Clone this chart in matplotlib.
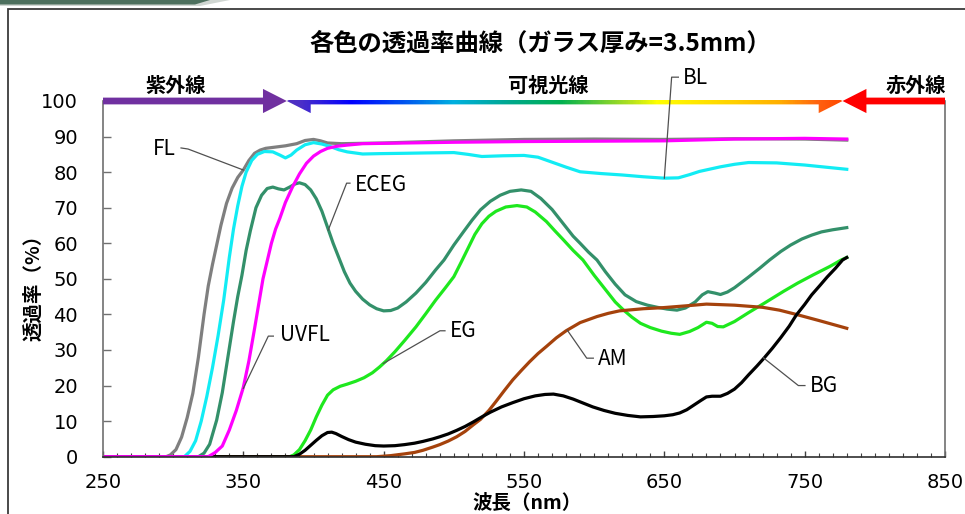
import numpy as np
import matplotlib
matplotlib.use('Agg')
import matplotlib.pyplot as plt
from matplotlib.patches import Polygon, Rectangle
from matplotlib.colors import LinearSegmentedColormap

plt.rcParams['font.family'] = ['Noto Sans CJK JP', 'DejaVu Sans']

# 透過率データ (波長 nm, 透過率 %)
fl_wl = [250, 295, 298, 302, 306, 310, 314, 318, 322, 325, 328, 331, 334, 338, 342, 346, 350, 354, 358, 362,
         366, 372, 380, 388, 394, 400, 405, 410, 420, 450, 500, 550, 600, 650, 700, 750, 780]
fl_t = [0, 0, 0.5, 2, 5.5, 11, 17.8, 28, 40, 48, 54, 59.5, 65, 71.2, 75.5, 78.5, 80.6, 83.3, 85.3, 86.2,
        86.7, 87, 87.4, 88, 88.9, 89.2, 88.8, 88.2, 88, 88.2, 88.8, 89.2, 89.3, 89.2, 89.4, 89.3, 89]

bl_wl = [250, 308, 312, 316, 320, 324, 328, 332, 336, 340, 343, 346, 349, 352, 356, 360, 365, 371, 376, 380,
         384, 388, 394, 400, 406, 412, 418, 424, 435, 447, 465, 480, 500, 510, 520, 535, 550, 560, 570, 580,
         590, 605, 620, 635, 650, 660, 668, 675, 690, 700, 710, 730, 750, 765, 780]
bl_t = [0, 0, 1.5, 4.5, 10, 17, 25, 34, 44, 56, 64, 70.5, 76, 80, 83.3, 85, 85.8, 85.7, 84.8, 84,
        84.8, 86.2, 87.7, 88.3, 87.9, 87.2, 86.3, 85.7, 85.1, 85.2, 85.3, 85.4, 85.5, 85, 84.4, 84.6, 84.7, 84.2, 82.8, 81.4,
        80.1, 79.6, 79.2, 78.7, 78.3, 78.4, 79.3, 80.2, 81.5, 82.2, 82.7, 82.6, 82, 81.4, 80.8]

eceg_wl = [250, 318, 322, 326, 331, 335, 339, 343, 346, 349, 352, 355, 359, 363, 367, 371, 375, 379, 383, 387,
           390, 394, 398, 402, 406, 410, 414, 418, 422, 426, 430, 435, 440, 445, 450, 455, 460, 466, 473, 480,
           487, 493, 500, 507, 513, 519, 526, 533, 540, 548, 555, 562, 570, 578, 585, 590, 596, 602, 608, 615,
           622, 630, 638, 645, 652, 659, 665, 672, 677, 681, 686, 690, 695, 700, 710, 718, 725, 733, 740, 748,
           755, 762, 770, 780]
eceg_t = [0, 0, 1, 3.5, 10.3, 18, 28, 38, 45, 51, 58, 63.5, 70, 73.5, 75.4, 75.8, 75.3, 75, 75.8, 76.7,
          77, 76.5, 75, 72.5, 69, 64.5, 60, 56, 52, 48.8, 46.5, 44.3, 42.7, 41.6, 41, 41.1, 41.8, 43.5, 46, 49,
          52.5, 55.3, 59.5, 63.3, 66.5, 69.4, 71.8, 73.5, 74.6, 75, 74.6, 72.6, 69.5, 65.5, 62, 60, 57.5, 55.3, 52, 48.5,
          45.5, 43.6, 42.6, 42, 41.5, 41.2, 41.8, 43.5, 45.5, 46.4, 46, 45.6, 46.3, 47.5, 50.5, 53, 55.3, 57.7, 59.5, 61.2,
          62.3, 63.2, 63.8, 64.4]

eg_wl = [250, 383, 386, 390, 394, 398, 402, 406, 410, 414, 419, 424, 430, 436, 442, 447, 452, 458, 465, 473,
         480, 487, 494, 500, 505, 510, 515, 520, 525, 530, 537, 545, 552, 558, 566, 572, 578, 585, 592, 600,
         610, 615, 621, 627, 633, 640, 648, 655, 661, 668, 674, 680, 684, 688, 692, 700, 710, 721, 735, 745,
         756, 768, 776, 780]
eg_t = [0, 0, 0.5, 2, 4.5, 7.5, 11.2, 14.5, 17.3, 18.8, 19.8, 20.4, 21.2, 22.2, 23.6, 25.2, 27, 29.5, 32.7, 36.5,
        40.2, 44, 47.5, 50.6, 54.5, 58.5, 62.5, 65.5, 67.6, 69, 70.2, 70.6, 70.2, 68.8, 66.1, 63.5, 61, 58, 55.3, 51,
        46, 43.5, 41.2, 39.2, 37.5, 36.3, 35.3, 34.7, 34.4, 35.2, 36.3, 37.8, 37.5, 36.6, 36.5, 38, 40.5, 43.1, 46.5, 48.8,
        51.1, 53.5, 55.3, 56]

am_wl = [250, 445, 455, 465, 472, 478, 485, 490, 496, 502, 508, 514, 519, 525, 530, 536, 542, 548, 554, 560,
         566, 573, 580, 590, 602, 610, 618, 635, 649, 665, 680, 700, 720, 732, 744, 760, 770, 780]
am_t = [0, 0, 0.3, 0.8, 1.2, 1.8, 2.7, 3.4, 4.4, 5.6, 7.1, 9, 10.5, 13, 15.5, 18.6, 21.6, 24.2, 26.7, 29,
        31, 33.4, 35.4, 37.7, 39.4, 40.3, 41, 41.6, 41.9, 42.4, 42.9, 42.6, 42, 41.2, 40, 38.3, 37.2, 36.1]

bg_wl = [250, 386, 390, 394, 398, 402, 406, 410, 413, 416, 420, 425, 430, 437, 444, 450, 458, 465, 472, 478,
         485, 490, 496, 502, 508, 514, 520, 526, 534, 542, 550, 558, 565, 571, 578, 585, 592, 599, 607, 615,
         624, 633, 642, 650, 656, 661, 666, 671, 676, 680, 684, 690, 695, 700, 705, 710, 716, 721, 727, 733,
         739, 744, 750, 755, 761, 766, 772, 777, 780]
bg_t = [0, 0, 0.7, 1.8, 3.2, 4.6, 5.9, 6.8, 6.9, 6.5, 5.7, 4.8, 4.1, 3.5, 3.1, 3, 3.1, 3.4, 3.8, 4.3,
        5, 5.6, 6.4, 7.4, 8.5, 9.8, 11.2, 12.5, 14, 15.2, 16.3, 17.1, 17.5, 17.6, 17.1, 16.2, 15.1, 14, 13, 12.2,
        11.6, 11.2, 11.3, 11.5, 11.8, 12.3, 13.2, 14.5, 15.8, 16.8, 17, 17, 17.8, 19, 20.8, 23, 25.5, 27.7, 30.5, 33.5,
        36.7, 39.8, 42.8, 45.5, 48.2, 50.5, 53, 55.3, 56]

uvfl_wl = [250, 325, 330, 335, 340, 345, 350, 354, 358, 361, 364, 367, 370, 373, 376, 380, 385, 390, 395, 400,
           405, 410, 417, 424, 435, 450, 500, 550, 600, 650, 700, 750, 780]
uvfl_t = [0, 0, 1.2, 3, 7.5, 13, 19.5, 27, 36, 43, 50, 55, 60, 64, 67, 71.5, 75.8, 79.5, 82.5, 84.5,
          85.8, 86.7, 87.3, 87.6, 88, 88.1, 88.4, 88.6, 88.7, 88.8, 89.3, 89.5, 89.3]

# ラベル: 名前, 文字位置, 引き出し線 (x, y)
labels = [
    ('FL', (293.5, 86.6), [305.6, 310.6, 350], [86.8, 86.5, 80.6], 'center'),
    ('ECEG', (429.6, 76.4), [426, 423.6, 410.5], [76.9, 76.9, 63.7], 'left'),
    ('UVFL', (376, 34.3), [371.4, 367.8, 350], [33.9, 33.9, 19.2], 'left'),
    ('EG', (497.3, 35.3), [493.7, 490.1, 449.7], [35.4, 35.4, 26.2], 'left'),
    ('BL', (663.3, 106.4), [660, 655.2, 650], [106.7, 106.7, 78.3], 'left'),
    ('AM', (602.7, 27.5), [599.4, 594.7, 580.8], [27.7, 27.7, 35.6], 'left'),
    ('BG', (753.8, 20), [750.2, 745.5, 720.6], [20, 20, 27.8], 'left'),
]

# 可視光線のグラデーション (波長, 色)
grad_stops = [(381, '#5030C0'), (390, '#4B2FC8'), (426, '#0000FF'), (462, '#0050F0'), (499, '#00B0E0'),
              (538, '#00A890'), (576, '#00B050'), (625, '#B0E020'), (645, '#FFFF00'), (700, '#FFD000'),
              (732, '#FFB000'), (761, '#FF6010'), (777, '#FF4A00')]

fig = plt.figure(figsize=(9.65, 5.14), dpi=100)
ax = fig.add_axes([103 / 965, 1 - 456.7 / 514, (945 - 103) / 965, (456.7 - 101) / 514])

# 枠と左上の飾り
fig.patches.append(Rectangle((8.3 / 965, -0.05), 1.1, 1 - 9.3 / 514 + 0.05, transform=fig.transFigure,
                             fill=False, edgecolor='#3a3a3a', linewidth=1.3))
fig.patches.append(Polygon([(0, 1), (0, 1 - 6 / 514), (200 / 965, 1 - 6 / 514), (230 / 965, 1)],
                           closed=True, transform=fig.transFigure, facecolor='#d0d6d2', edgecolor='none'))
fig.patches.append(Polygon([(0, 1), (0, 1 - 4.5 / 514), (195 / 965, 1 - 4.5 / 514), (210 / 965, 1)],
                           closed=True, transform=fig.transFigure, facecolor='#4d705e', edgecolor='none'))

lw = 2.3
ax.plot(fl_wl, fl_t, color='#7f7f7f', lw=lw, solid_joinstyle='round')
ax.plot(bl_wl, bl_t, color='#12ecf4', lw=lw, solid_joinstyle='round')
ax.plot(eceg_wl, eceg_t, color='#33906a', lw=lw, solid_joinstyle='round')
ax.plot(eg_wl, eg_t, color='#1ee81e', lw=lw, solid_joinstyle='round')
ax.plot(am_wl, am_t, color='#a5420c', lw=lw, solid_joinstyle='round')
ax.plot(bg_wl, bg_t, color='black', lw=lw, solid_joinstyle='round')
ax.plot(uvfl_wl, uvfl_t, color='#ff00ff', lw=lw, solid_joinstyle='round')

for name, (tx, ty), lx, ly, ha in labels:
    ax.plot(lx, ly, color='#505050', lw=0.9, clip_on=False, zorder=6)
    ax.text(tx, ty, name, fontsize=15, ha=ha, va='center', color='black')

ax.set_xlim(250, 850)
ax.set_ylim(0, 100)
ax.set_xticks(range(250, 851, 100))
ax.set_xticks(range(250, 851, 10), minor=True)
ax.set_yticks(range(0, 101, 10))
ax.tick_params(axis='x', which='major', direction='in', length=4.5, width=1, color='#404040', pad=12,
               labelsize=14, labelfontfamily='DejaVu Sans')
ax.tick_params(axis='x', which='minor', direction='in', length=3, width=0.8, color='#404040')
ax.tick_params(axis='y', direction='in', length=6, width=1, color='#707070', pad=18,
               labelsize=14, labelfontfamily='DejaVu Sans')
ax.spines['top'].set_visible(False)
ax.spines['left'].set_color('#707070')
ax.spines['right'].set_color('#707070')
ax.spines['bottom'].set_color('#303030')
ax.spines['left'].set_linewidth(1.2)
ax.spines['right'].set_linewidth(1.2)
ax.spines['bottom'].set_linewidth(1.2)

# 紫外線・可視光線・赤外線の矢印
h, hh = 0.95, 3.4
purple = Polygon([(250, 100 - h), (364, 100 - h), (364, 100 - hh), (381, 100), (364, 100 + hh),
                  (364, 100 + h), (250, 100 + h)], closed=True, facecolor='#7030a0', edgecolor='none',
                 clip_on=False, zorder=5)
red = Polygon([(850, 100 - h), (794, 100 - h), (794, 100 - hh), (777, 100), (794, 100 + hh),
               (794, 100 + h), (850, 100 + h)], closed=True, facecolor='#ff0000', edgecolor='none',
              clip_on=False, zorder=5)
ax.add_patch(purple)
ax.add_patch(red)
vis = Polygon([(381, 100), (398, 100 + hh), (398, 100 + h), (760, 100 + h), (760, 100 + hh), (777, 100),
               (760, 100 - hh), (760, 100 - h), (398, 100 - h), (398, 100 - hh)], closed=True,
              transform=ax.transData, facecolor='none', edgecolor='none')
x0, x1 = grad_stops[0][0], grad_stops[-1][0]
cmap = LinearSegmentedColormap.from_list('vis', [((w - x0) / (x1 - x0), c) for w, c in grad_stops])
im = ax.imshow(np.linspace(0, 1, 600)[None, :], cmap=cmap, extent=(x0, x1, 100 - hh, 100 + hh),
               aspect='auto', zorder=5, interpolation='bilinear')
im.set_clip_path(vis)
im.set_clip_box(None)
ax.set_xlim(250, 850)
ax.set_ylim(0, 100)

ax.text(302, 104.3, '紫外線', fontsize=14.5, fontweight='bold', ha='center', va='center')
ax.text(567, 104.3, '可視光線', fontsize=14.5, fontweight='bold', ha='center', va='center')
ax.text(829, 104.3, '赤外線', fontsize=14.5, fontweight='bold', ha='center', va='center')

fig.text(540 / 965, 1 - 44 / 514, '各色の透過率曲線（ガラス厚み=3.5mm）', fontsize=17.5, fontweight='bold',
         ha='center', va='center')
fig.text(34 / 965, 1 - 283 / 514, '透過率（%）', fontsize=14, fontweight='bold', rotation=90,
         ha='center', va='center')
fig.text(527 / 965, 1 - 503 / 514, '波長（nm）', fontsize=14, fontweight='bold', ha='center', va='center')

fig.savefig('out.png', dpi=100)
